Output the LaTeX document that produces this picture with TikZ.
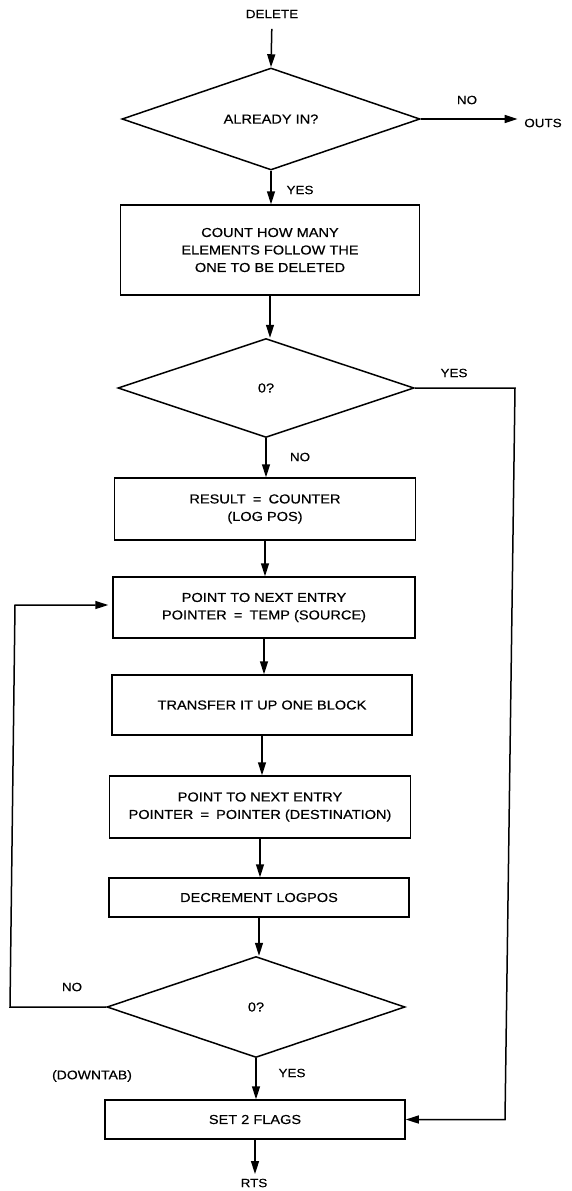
\documentclass[tikz,border=0pt]{standalone}
\usepackage{fontspec}
\setmainfont{Liberation Sans}[FakeStretch=1.12,FakeBold=0.4]
\usetikzlibrary{shapes.geometric,arrows.meta}
\begin{document}
\begin{tikzpicture}[x=1pt,y=-1pt, line width=1.5pt,
  flow/.style={-{Triangle[length=13pt,width=8pt]}},
  procbox/.style={draw, rectangle, inner sep=0pt, align=center, font=\fontsize{13}{17.5}\selectfont},
  decision/.style={draw, diamond, inner sep=0pt, aspect=2.95, font=\fontsize{13}{15}\selectfont},
  lbl/.style={inner sep=0pt, font=\fontsize{12}{14}\selectfont}]
\fill[white] (0,0) rectangle (572,1191);
\useasboundingbox (0,0) rectangle (572,1191);
\newcommand{\eqsp}{\hspace{0.55em}=\hspace{0.55em}}

% nodes
\node[lbl] (del) at (272,14) {DELETE};
\node[decision, minimum width=298pt, minimum height=102pt] (d1) at (271,119) {ALREADY IN?};
\node[lbl] (no1) at (467,100) {NO};
\node[lbl] (outs) at (543,123) {OUTS};
\node[lbl] (yes1) at (300,190) {YES};
\node[procbox, minimum width=299pt, minimum height=90pt] (b1) at (270,250) {COUNT HOW MANY\\ELEMENTS FOLLOW THE\\ONE TO BE DELETED};
\node[decision, minimum width=296pt, minimum height=99pt] (d2) at (266,388) {0?};
\node[lbl] (yes2) at (454,373) {YES};
\node[lbl] (no2) at (300,457) {NO};
\node[procbox, minimum width=301pt, minimum height=62pt] (b2) at (265,509) {RESULT\eqsp COUNTER\\(LOG POS)};
\node[procbox, minimum width=302pt, minimum height=61pt] (b3) at (264,607.5) {POINT TO NEXT ENTRY\\POINTER\eqsp TEMP (SOURCE)};
\node[procbox, minimum width=300pt, minimum height=60pt] (b4) at (262,705) {TRANSFER IT UP ONE BLOCK};
\node[procbox, minimum width=301pt, minimum height=62pt] (b5) at (260,807) {POINT TO NEXT ENTRY\\POINTER\eqsp POINTER (DESTINATION)};
\node[procbox, minimum width=300pt, minimum height=39pt] (b6) at (259,897.5) {DECREMENT LOGPOS};
\node[decision, minimum width=298pt, minimum height=101pt] (d3) at (256,1007) {0?};
\node[lbl] (no3) at (72,987) {NO};
\node[lbl, font=\fontsize{12.5}{14}\selectfont] (dtab) at (92,1076) {(DOWNTAB)};
\node[lbl] (yes3) at (292,1073) {YES};
\node[procbox, minimum width=300pt, minimum height=39pt] (b7) at (255,1119.5) {SET 2 FLAGS};
\node[lbl] (rts) at (254,1183) {RTS};

% helper coordinates
\coordinate (fbA) at (10,1007);
\coordinate (fbB) at (15,605);
\coordinate (rA) at (515,388);
\coordinate (rB) at (505,1119.5);

% connectors
\draw[flow, shorten <=10pt] (del.south) -- (d1.north);
\draw[flow, shorten >=6pt] (d1.east) -- (d1.east -| outs.west);
\draw[flow] (d1.south) -- (d1.south |- b1.north);
\draw[flow] (b1.south) -- (b1.south |- d2.north);
\draw[flow] (d2.south) -- (d2.south |- b2.north);
\draw[flow] (b2.south) -- (b2.south |- b3.north);
\draw[flow] (b3.south) -- (b3.south |- b4.north);
\draw[flow] (b4.south) -- (b4.south |- b5.north);
\draw[flow] (b5.south) -- (b5.south |- b6.north);
\draw[flow] (b6.south) -- (b6.south |- d3.north);
\draw[flow] (d3.south) -- (d3.south |- b7.north);
\draw[flow, shorten >=4pt] (b7.south) -- (b7.south |- rts.north);
\draw[flow, shorten >=4pt] (d3.west) -- (fbA) -- (fbB) -- (fbB -| b3.west);
\draw[flow] (d2.east) -- (rA) -- (rB) -- (b7.east);
\end{tikzpicture}
\end{document}
